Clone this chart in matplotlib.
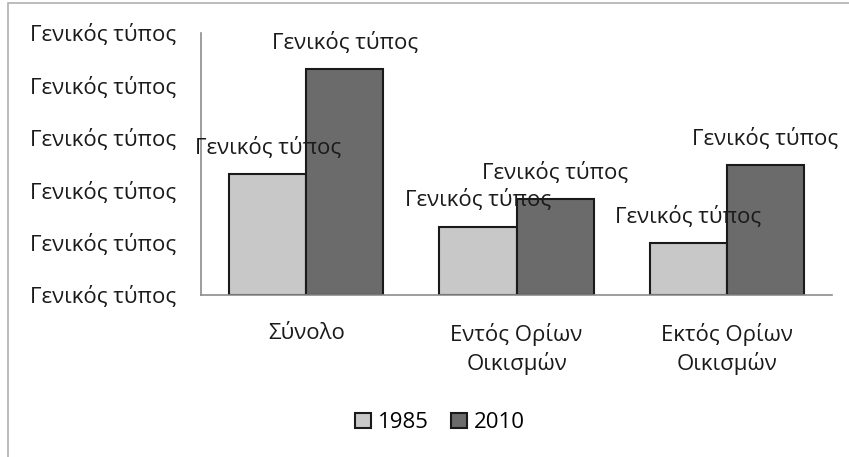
import matplotlib.pyplot as plt
from matplotlib.patches import Rectangle
import numpy as np

plt.rcParams['font.family'] = ['Open Sans', 'DejaVu Sans']

categories = ['Σύνολο', 'Εντός Ορίων\nΟικισμών', 'Εκτός Ορίων\nΟικισμών']
years = ['1985', '2010']
vals_1985 = [2.31, 1.30, 0.99]
vals_2010 = [4.31, 1.83, 2.48]
colors = ['#c8c8c8', '#6b6b6b']
tick_text = 'Γενικός τύπος'
yticks = [0, 1, 2, 3, 4, 5]

fs = 16
fig = plt.figure(figsize=(8.49, 4.57), dpi=100)
ax = fig.add_axes([0.2368, 0.3545, 0.7432, 0.5733])

# outer chart border (Excel style)
fig.patches.append(Rectangle((8 / 849, -0.1), 1.2, 1 - 3 / 457 + 0.1,
                             transform=fig.transFigure, fill=False,
                             edgecolor='#b0b0b0', linewidth=1.2))

x = np.arange(len(categories))
w = 0.367
b1 = ax.bar(x - w / 2, vals_1985, w, color=colors[0], edgecolor='#1a1a1a',
            linewidth=1.5, label=years[0])
b2 = ax.bar(x + w / 2, vals_2010, w, color=colors[1], edgecolor='#1a1a1a',
            linewidth=1.5, label=years[1])

for bars in (b1, b2):
    for r in bars:
        ax.annotate(tick_text, (r.get_x() + r.get_width() / 2, r.get_height()),
                    xytext=(0, 19), textcoords='offset points',
                    ha='center', va='center', fontsize=fs, color='#1a1a1a')

ax.set_xlim(-0.5, 2.5)
ax.set_ylim(0, 5)
ax.set_yticks(yticks)
ax.set_yticklabels([tick_text] * len(yticks), fontsize=fs, color='#1a1a1a')
ax.set_xticks(x)
ax.set_xticklabels(categories, fontsize=fs, color='#1a1a1a', linespacing=1.35)
ax.tick_params(axis='y', length=0, pad=18)
ax.tick_params(axis='x', length=0, pad=20)
for s in ['top', 'right']:
    ax.spines[s].set_visible(False)
for s in ['left', 'bottom']:
    ax.spines[s].set_color('#8c8c8c')
    ax.spines[s].set_linewidth(1.2)

fig.legend(handles=[b1, b2], labels=years, loc='center',
           bbox_to_anchor=(0.518, 0.075), ncol=2, frameon=False,
           fontsize=fs, handlelength=0.72, handleheight=0.72,
           handletextpad=0.3, columnspacing=1.0)

fig.savefig('out.png', dpi=100)
